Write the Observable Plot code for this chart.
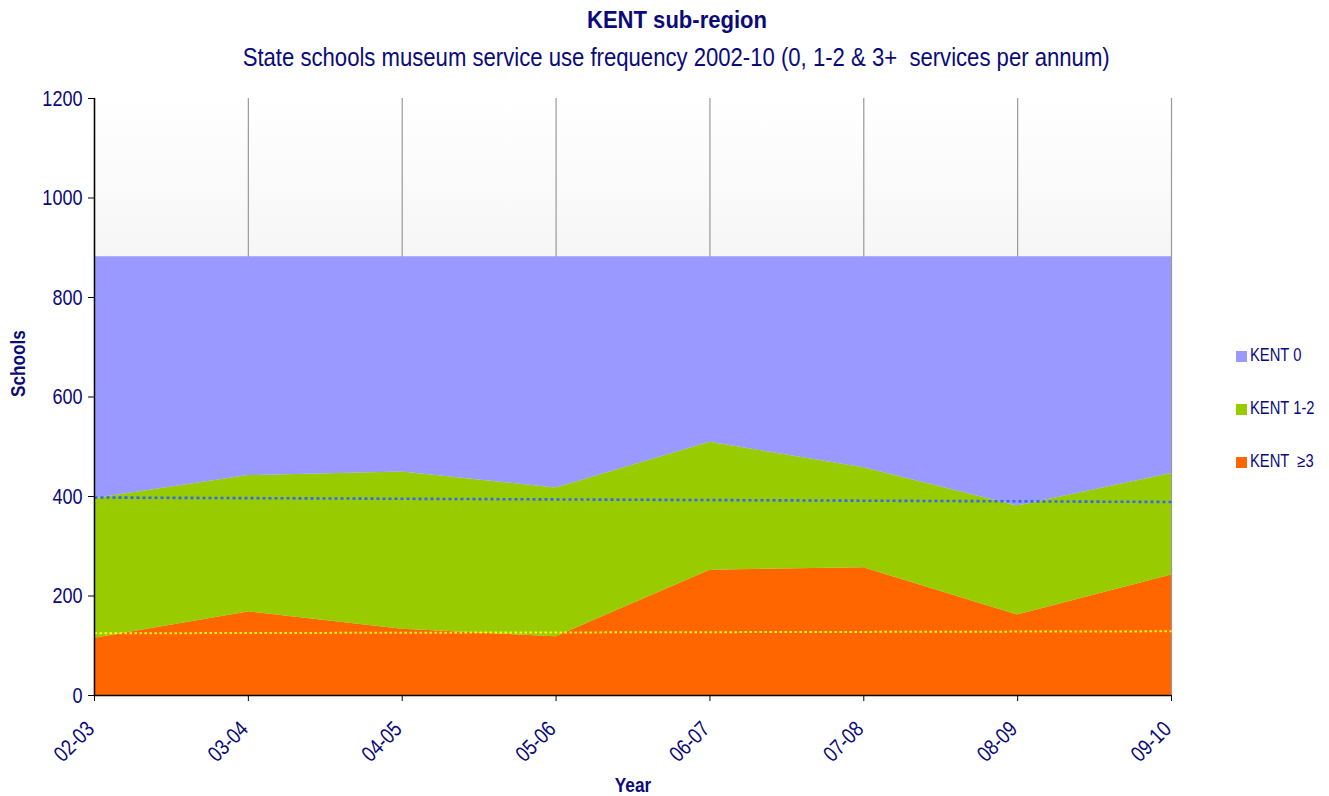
<!DOCTYPE html>
<html>
<head>
<meta charset="utf-8">
<script src="https://cdn.jsdelivr.net/npm/d3@7"></script>
<script src="https://cdn.jsdelivr.net/npm/@observablehq/plot@0.6"></script>
<style>
  html, body { margin: 0; padding: 0; background: #ffffff; }
  body { position: relative; width: 1329px; height: 796px; overflow: hidden;
         font-family: "Liberation Sans", Arial, sans-serif; color: #0a0a7a; }
  .head { position: absolute; left: 0; width: 1353px; text-align: center; white-space: pre; }
  .head span { display: inline-block; transform-origin: 50% 50%; }
  #title { top: 6px; font-weight: bold; font-size: 24px; }
  #subtitle { top: 43px; font-size: 25px; }
  #chart { position: absolute; left: 0; top: 80px; }
  #legend { position: absolute; left: 1236px; top: 344px; font-size: 18px; }
  .item { position: absolute; left: 0; white-space: pre; height: 22px; line-height: 22px; }
  .sw { display: inline-block; width: 11px; height: 11px; margin-right: 3px; vertical-align: -1px; }
  .lab { display: inline-block; transform: scaleX(0.82); transform-origin: 0 50%; }
</style>
</head>
<body>
<div id="title" class="head"><span>KENT sub-region</span></div>
<div id="subtitle" class="head"><span>State schools museum service use frequency 2002-10 (0, 1-2 &amp; 3+&nbsp; services per annum)</span></div>
<div id="chart"></div>
<div id="legend"></div>
<script>
// ---- data ----
const years = ["02-03", "03-04", "04-05", "05-06", "06-07", "07-08", "08-09", "09-10"];
const kent0  = [486, 440, 433, 465, 373, 424, 501, 436];
const kent12 = [281, 274, 316, 299, 257, 201, 219, 204];
const kent3  = [115, 168, 133, 118, 252, 257, 162, 242];
const seriesNames = ["KENT  \u22653", "KENT 1-2", "KENT 0"];
const seriesColors = ["#ff6600", "#99cc00", "#9999ff"];
// dotted trend lines (start / end values)
const trendUpper = [398, 389];
const trendLower = [125, 129];
const yTicks = [0, 200, 400, 600, 800, 1000, 1200];

const rows = [];
const seriesValues = [kent3, kent12, kent0];
years.forEach((yr, i) => {
  seriesValues.forEach((vals, s) => rows.push({ i, year: yr, series: seriesNames[s], value: vals[i] }));
});
const upper = [{ i: 0, v: trendUpper[0] }, { i: years.length - 1, v: trendUpper[1] }];
const lower = [{ i: 0, v: trendLower[0] }, { i: years.length - 1, v: trendLower[1] }];
const idx = years.map((_, i) => i);

const navy = "#0a0a7a";
const plot = Plot.plot({
  width: 1329,
  height: 716,
  marginLeft: 94,
  marginRight: 158,
  marginTop: 18,
  marginBottom: 101,
  style: { fontFamily: "'Liberation Sans', Arial, sans-serif", fontSize: "22px", color: navy, background: "white" },
  x: { type: "linear", domain: [0, years.length - 1] },
  y: { domain: [0, 1200] },
  color: { domain: seriesNames, range: seriesColors },
  marks: [
    Plot.frame({ fill: "url(#bggrad)", stroke: "none" }),
    Plot.ruleX(idx, { stroke: "#999999", strokeWidth: 1.2 }),
    Plot.areaY(rows, Plot.stackY({ x: "i", y: "value", fill: "series", z: "series", order: null })),
    Plot.line(upper, { x: "i", y: "v", stroke: "#3366ff", strokeWidth: 2.6, strokeDasharray: "3,3", strokeLinecap: "butt" }),
    Plot.line(lower, { x: "i", y: "v", stroke: "#ffff00", strokeWidth: 2, strokeDasharray: "2.5,2.5", strokeLinecap: "butt" }),
    Plot.ruleX([0], { stroke: "black", strokeWidth: 1.5 }),
    Plot.ruleY([0], { stroke: "black", strokeWidth: 1.5 }),
    Plot.axisY({ ticks: yTicks, tickSize: 6, tickFormat: () => "", stroke: "black", label: null }),
    Plot.axisY({ ticks: yTicks, tickSize: 0, tickPadding: 12, tickFormat: d3.format("d"), fill: navy, label: null }),
    Plot.axisX({ ticks: idx, tickSize: 6, tickFormat: () => "", stroke: "black", label: null }),
    Plot.axisX({ ticks: idx, tickSize: 0, tickPadding: 30, dx: -4, tickRotate: -45, tickFormat: i => years[i], fill: navy, label: null }),
    Plot.text(["Schools"], { frameAnchor: "left", dx: -76, rotate: -90, fontWeight: "bold", fontSize: 21, fill: navy }),
    Plot.text(["Year"], { frameAnchor: "bottom", dy: 96, fontWeight: "bold", fontSize: 21, fill: navy })
  ]
});

// gradient definition for the plot background
const ns = "http://www.w3.org/2000/svg";
const defs = document.createElementNS(ns, "defs");
defs.innerHTML = '<linearGradient id="bggrad" x1="0" y1="0" x2="0" y2="1">' +
  '<stop offset="0" stop-color="#ffffff"/><stop offset="1" stop-color="#dedede"/></linearGradient>';
plot.insertBefore(defs, plot.firstChild);
document.getElementById("chart").appendChild(plot);

// narrow the text horizontally (Arial Narrow look)
plot.querySelectorAll("text").forEach(t => {
  const tr = t.getAttribute("transform") || "";
  t.setAttribute("transform", (tr + " scale(0.82,1)").trim());
});

// fit headings to the reference widths
function fit(id, w) {
  const s = document.querySelector("#" + id + " span");
  const nat = s.getBoundingClientRect().width;
  s.style.transform = "scaleX(" + (w / nat) + ")";
}
fit("title", 180);
fit("subtitle", 867);

// legend
const legend = document.getElementById("legend");
const order = [2, 1, 0];
order.forEach((s, k) => {
  const d = document.createElement("div");
  d.className = "item";
  d.style.top = (k * 53) + "px";
  d.innerHTML = '<span class="sw" style="background:' + seriesColors[s] + '"></span><span class="lab">' + seriesNames[s] + '</span>';
  legend.appendChild(d);
});
</script>
</body>
</html>
